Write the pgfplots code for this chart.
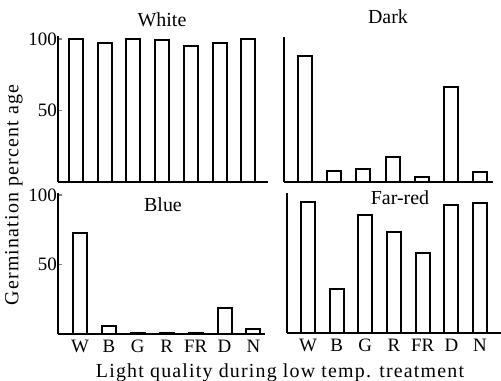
\documentclass[border=0pt]{standalone}
\usepackage{pgfplots}
\pgfplotsset{compat=1.18}
\usepackage{fontspec}
\setmainfont{Liberation Serif}
\newfontfamily\lsfont[LetterSpace=6]{Liberation Serif}
\begin{document}
\begin{tikzpicture}[x=1bp,y=1bp]
\path[use as bounding box] (0bp,0bp) rectangle (501bp,381bp);
\pgfplotsset{
  panel/.style={
    scale only axis, anchor=south west,
    axis x line=bottom, axis y line=left,
    axis line style={-, line width=1.3bp},
    ymin=0, xtick={0,...,6}, xticklabels={}, ytick=\empty,
    xtick style={draw=none},
    ytick style={line width=1.3bp},
    major tick length=4bp, tick align=inside,
    enlargelimits=false, clip=false,
    /pgf/number format/assume math mode=true,
    yticklabel style={font=\fontsize{19}{19}\selectfont, inner sep=1bp},
    xticklabel style={font=\fontsize{19}{19}\selectfont, inner sep=2bp, yshift=-4bp},
  },
  bars/.style={ybar, bar width=14bp, bar shift=0pt, fill=white, draw=black, line width=2bp},
}
% White (top left)
\begin{axis}[panel, at={(58bp,199bp)}, width=210bp, height=146bp,
  xmin=-0.63, xmax=6.69, ymax=102, ytick={50,100}]
\addplot[bars] coordinates {(0,100) (1,97) (2,100) (3,99) (4,95) (5,97) (6,100)};
\end{axis}
% Dark (top right)
\begin{axis}[panel, at={(284bp,199bp)}, width=209bp, height=145bp,
  xmin=-0.72, xmax=6.44, ymax=101]
\addplot[bars] coordinates {(0,88) (1,8) (2,9) (3,17.7) (4,3.7) (5,66) (6,6.8)};
\end{axis}
% Blue (bottom left)
\begin{axis}[panel, at={(58bp,47bp)}, width=207bp, height=141bp,
  xmin=-0.76, xmax=6.40, ymax=101.5, ytick={50,100},
  xticklabels={W,B,G,R,FR,D,N}]
\addplot[bars] coordinates {(0,72.4) (1,6) (2,0.5) (3,0.5) (4,0.5) (5,18.9) (6,3.8)};
\end{axis}
% Far-red (bottom right)
\begin{axis}[panel, at={(287bp,48bp)}, width=214bp, height=140bp,
  xmin=-0.73, xmax=6.73, ymax=101.5,
  xticklabels={W,B,G,R,FR,D,N}]
\addplot[bars] coordinates {(0,95.2) (1,32.1) (2,85.4) (3,72.9) (4,57.8) (5,92.6) (6,94.5)};
\end{axis}
\node[font=\fontsize{20}{20}\selectfont] at (162bp,361bp) {White};
\node[font=\fontsize{20}{20}\selectfont] at (388bp,364bp) {Dark};
\node[font=\fontsize{20}{20}\selectfont] at (163bp,176bp) {Blue};
\node[font=\fontsize{20}{20}\selectfont] at (400bp,183bp) {Far-red};
\node[font=\fontsize{20}{20}\lsfont, anchor=base] at (280bp,4bp) {Light quality during low temp. treatment};
\node[font=\fontsize{20}{20}\lsfont, rotate=90] at (14bp,186bp) {Germination percent age};
\end{tikzpicture}
\end{document}
